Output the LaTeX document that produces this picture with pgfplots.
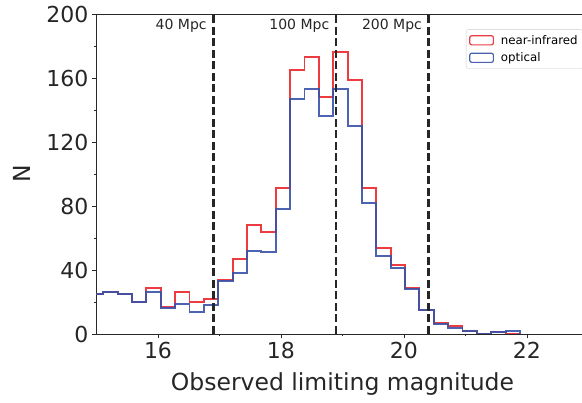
\documentclass[border=0pt]{standalone}
\usepackage{fontspec}
\setmainfont{DejaVu Sans}
\usepackage{pgfplots}
\pgfplotsset{compat=1.18}
\definecolor{nirred}{RGB}{236,60,66}
\definecolor{optblue}{RGB}{55,82,168}
\definecolor{spine}{RGB}{40,40,40}
\begin{document}
\begin{tikzpicture}
\begin{axis}[
  name=ax,
  at={(0,0)}, anchor=south west,
  scale only axis,
  width=492pt, height=320pt,
  xmin=15, xmax=23, ymin=0, ymax=200,
  xtick={16,18,20,22},
  minor xtick={17,19,21},
  ytick={0,40,80,120,160,200},
  minor ytick={20,60,100,140,180},
  tick align=outside,
  tick pos=left,
  major tick length=4.5pt,
  minor tick length=2.5pt,
  every tick/.style={spine, line width=0.8pt},
  axis line style={spine, line width=0.8pt},
  tick label style={font=\fontsize{22}{26}\selectfont, text=black!85},
  /pgf/number format/assume math mode=true,
  xlabel={Observed limiting magnitude},
  ylabel={N},
  label style={font=\fontsize{23.5}{27}\selectfont, text=black!85},
  xlabel style={at={(axis description cs:0.5,0)}, anchor=base, yshift=-57pt},
  ylabel style={at={([xshift=-74.5pt]axis description cs:0,0.5)}, anchor=center},
  legend style={at={(0.751,0.952)}, anchor=north west, draw=black!20, fill=white,
    rounded corners=2pt, font=\fontsize{11.8}{13.5}\selectfont, inner xsep=3pt, inner ysep=3.5pt,
    row sep=3pt, cells={anchor=west},
    /tikz/every odd column/.append style={column sep=5pt}},
  legend image code/.code={\draw[#1, line width=1.2pt] (0pt,-4.6pt) rectangle (23.6pt,4.6pt);},
]
\addplot[const plot, nirred, line width=1.9pt, line join=miter] coordinates {
(14.876,0)(14.876,25)(15.110,26)(15.343,25)(15.577,20)(15.811,29)(16.045,17)(16.278,26)
(16.512,20)(16.746,22)(16.979,34)(17.213,47)(17.447,68)(17.680,64)(17.914,91)(18.148,165)
(18.382,173)(18.615,148)(18.849,176)(19.083,159)(19.316,91)(19.550,54)(19.784,43)(20.017,29)
(20.251,15)(20.485,7)(20.719,5)(20.952,2)(21.186,0)(21.420,1)(21.653,0)(21.887,0)};
\addlegendentry{near-infrared}
\addplot[const plot, optblue, line width=1.9pt, line join=miter, opacity=0.9] coordinates {
(14.876,0)(14.876,25)(15.110,26)(15.343,25)(15.577,20)(15.811,26)(16.045,16)(16.278,19)
(16.512,14)(16.746,18)(16.979,33)(17.213,38)(17.447,52)(17.680,51)(17.914,78)(18.148,147)
(18.382,153)(18.615,136)(18.849,153)(19.083,130)(19.316,82)(19.550,49)(19.784,41)(20.017,28)
(20.251,15)(20.485,6)(20.719,4)(20.952,2)(21.186,0)(21.420,1)(21.653,2)(21.887,2)(21.887,0)};
\addlegendentry{optical}
\addplot[forget plot, black!85, line width=2.4pt, dash pattern=on 8pt off 3.5pt] coordinates {(16.90,0) (16.90,200)};
\addplot[forget plot, black!85, line width=2.4pt, dash pattern=on 8pt off 3.5pt] coordinates {(18.894,0) (18.894,200)};
\addplot[forget plot, black!85, line width=2.4pt, dash pattern=on 8pt off 3.5pt] coordinates {(20.40,0) (20.40,200)};
\node[anchor=base east, inner sep=0pt, xshift=-6.5pt, font=\fontsize{14}{16}\selectfont, text=black!85] at (axis cs:16.90,190) {40 Mpc};
\node[anchor=base east, inner sep=0pt, xshift=-6.5pt, font=\fontsize{14}{16}\selectfont, text=black!85] at (axis cs:18.894,190) {100 Mpc};
\node[anchor=base east, inner sep=0pt, xshift=-6.5pt, font=\fontsize{14}{16}\selectfont, text=black!85] at (axis cs:20.40,190) {200 Mpc};
\end{axis}
\pgfresetboundingbox
\path[use as bounding box] ([xshift=-96.5pt,yshift=-69pt]ax.south west) rectangle ++(582pt,403pt);
\end{tikzpicture}
\end{document}
